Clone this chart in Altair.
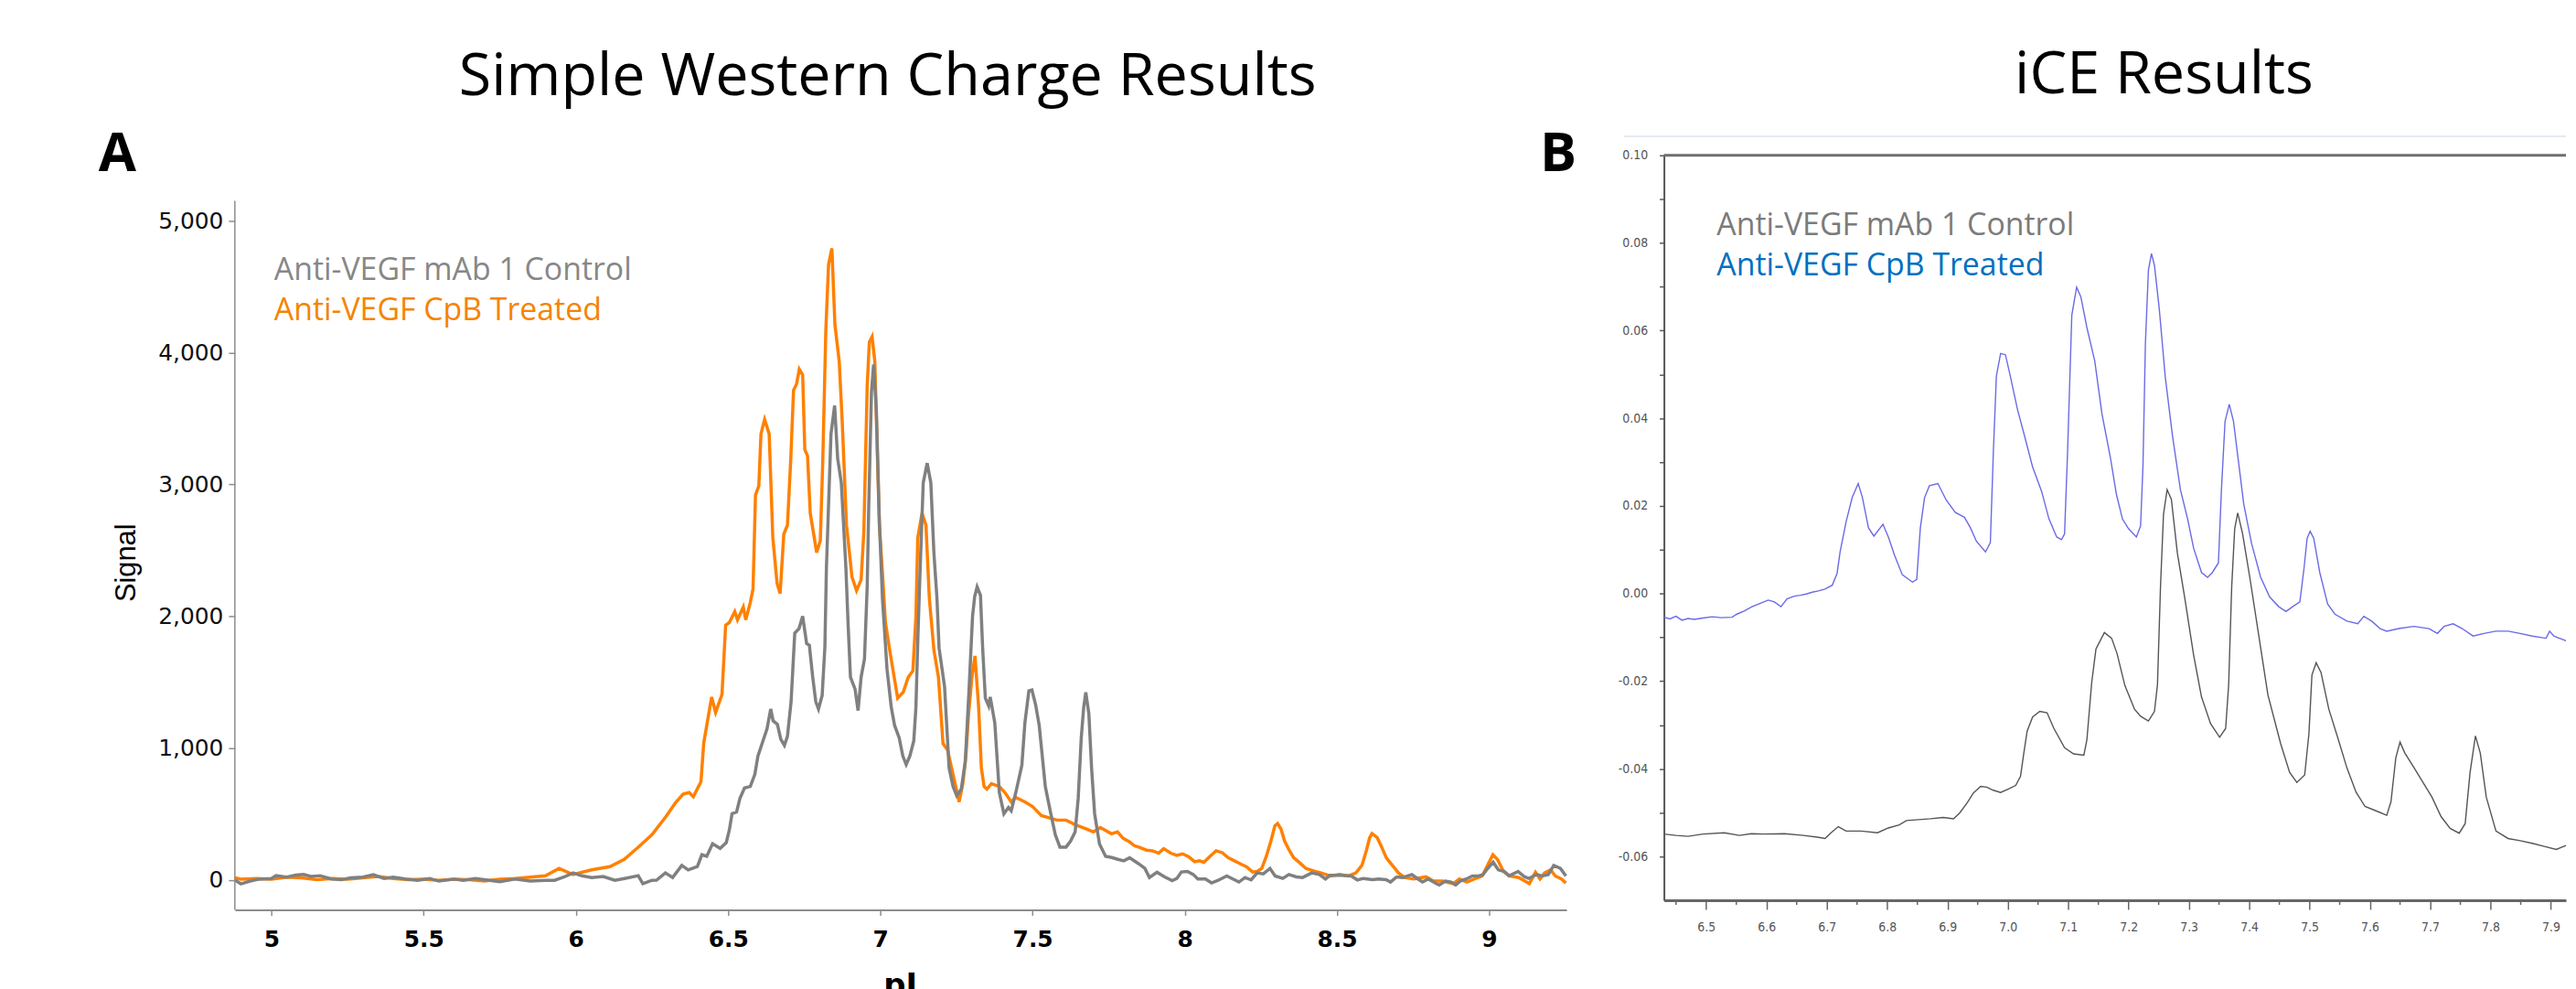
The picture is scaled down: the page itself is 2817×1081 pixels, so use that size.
import altair as alt
import pandas as pd

# ---------------- Panel A: Simple Western charge (pI, Signal) ----------------
sw_control = [
    (4.88, -3), (4.90, -31), (4.93, -10), (4.96, 5), (5.00, 10), (5.015, 31), (5.05, 20), (5.08, 35),
    (5.106, 40), (5.13, 25), (5.16, 30), (5.197, 6), (5.23, 0), (5.26, 15), (5.30, 20), (5.335, 38),
    (5.37, 10), (5.40, 20), (5.44, 6), (5.48, -5), (5.52, 10), (5.55, -10), (5.60, 5), (5.63, -5),
    (5.67, 10), (5.717, -4), (5.75, -15), (5.80, 5), (5.85, -10), (5.90, -5), (5.93, -4), (5.96, 20),
    (5.991, 52), (6.02, 30), (6.052, 17), (6.09, 25), (6.128, -4), (6.16, 10), (6.205, 31), (6.22, -30),
    (6.25, -4), (6.265, -3), (6.294, 52), (6.318, 17), (6.348, 109), (6.369, 75), (6.399, 100),
    (6.414, 190), (6.43, 178), (6.449, 273), (6.474, 238), (6.494, 282), (6.504, 376), (6.513, 501),
    (6.528, 515), (6.539, 618), (6.554, 697), (6.573, 708), (6.588, 800), (6.598, 939), (6.613, 1042),
    (6.628, 1146), (6.640, 1296), (6.648, 1206), (6.662, 1180), (6.673, 1068), (6.685, 1019),
    (6.695, 1088), (6.707, 1353), (6.719, 1872), (6.733, 1906), (6.745, 2000), (6.758, 1793),
    (6.767, 1780), (6.778, 1538), (6.788, 1353), (6.797, 1296), (6.809, 1399), (6.818, 1768),
    (6.823, 2367), (6.838, 3383), (6.850, 3599), (6.860, 3196), (6.872, 3012), (6.887, 2367),
    (6.894, 1952), (6.902, 1538), (6.917, 1448), (6.927, 1284), (6.937, 1538), (6.948, 1676),
    (6.957, 2229), (6.962, 2830), (6.971, 3703), (6.978, 3910), (6.987, 3565), (6.997, 2713),
    (7.007, 2139), (7.022, 1600), (7.036, 1309), (7.047, 1171), (7.062, 1077), (7.074, 939),
    (7.085, 874), (7.097, 939), (7.110, 1054), (7.117, 1309), (7.124, 1883), (7.130, 2300),
    (7.141, 3012), (7.154, 3162), (7.166, 3012), (7.176, 2484), (7.186, 2139), (7.193, 1760),
    (7.211, 1468), (7.226, 847), (7.239, 708), (7.251, 639), (7.266, 688), (7.279, 895), (7.291, 1422),
    (7.303, 2000), (7.310, 2150), (7.318, 2224), (7.329, 2160), (7.336, 1768), (7.345, 1379),
    (7.356, 1319), (7.361, 1388), (7.376, 1192), (7.391, 662), (7.406, 501), (7.421, 549), (7.430, 524),
    (7.445, 662), (7.465, 869), (7.475, 1192), (7.488, 1434), (7.498, 1441), (7.510, 1330),
    (7.522, 1171), (7.532, 939), (7.542, 708), (7.560, 501), (7.575, 341), (7.590, 248), (7.610, 248),
    (7.625, 294), (7.640, 363), (7.650, 616), (7.660, 1077), (7.668, 1307), (7.675, 1422),
    (7.685, 1261), (7.694, 847), (7.704, 501), (7.720, 271), (7.740, 178), (7.760, 169), (7.780, 155),
    (7.800, 144), (7.819, 167), (7.849, 121), (7.869, 86), (7.884, 17), (7.909, 57), (7.934, 22),
    (7.959, -6), (7.974, 10), (7.989, 59), (8.009, 63), (8.028, 40), (8.043, 6), (8.068, 6),
    (8.088, -24), (8.108, -6), (8.138, 29), (8.158, 6), (8.178, -17), (8.198, 17), (8.218, -1),
    (8.238, 52), (8.258, 45), (8.280, 86), (8.297, 29), (8.322, 10), (8.342, 40), (8.367, 22),
    (8.387, 17), (8.417, 52), (8.442, 40), (8.462, 6), (8.477, 33), (8.517, 33), (8.547, 29),
    (8.567, -1), (8.587, 10), (8.617, 1), (8.636, 6), (8.661, 1), (8.676, -17), (8.696, 22),
    (8.716, 17), (8.746, 40), (8.766, 6), (8.781, -17), (8.800, 6), (8.826, -29), (8.836, -40),
    (8.856, -10), (8.875, -17), (8.890, -40), (8.905, -10), (8.925, 6), (8.945, 29), (8.965, 29),
    (8.980, 40), (8.995, 86), (9.013, 133), (9.030, 75), (9.050, 63), (9.065, 29), (9.095, 63),
    (9.115, 24), (9.130, 10), (9.155, 40), (9.174, 29), (9.194, 40), (9.212, 109), (9.234, 86),
    (9.252, 29),
]

sw_cpb = [
    (4.88, 15), (4.90, 5), (4.95, 10), (5.00, 5), (5.05, 20), (5.10, 15), (5.15, 0), (5.20, 10),
    (5.25, 5), (5.30, 15), (5.35, 25), (5.40, 10), (5.45, 0), (5.50, 5), (5.55, -5), (5.60, 5),
    (5.65, 0), (5.70, -10), (5.75, 5), (5.80, 10), (5.85, 20), (5.90, 30), (5.945, 86), (5.99, 40),
    (6.052, 75), (6.112, 100), (6.159, 155), (6.205, 247), (6.25, 342), (6.296, 480), (6.327, 584),
    (6.352, 650), (6.372, 662), (6.386, 630), (6.411, 746), (6.42, 1037), (6.446, 1387), (6.459, 1270),
    (6.48, 1406), (6.492, 1932), (6.504, 1952), (6.522, 2035), (6.531, 1973), (6.55, 2070),
    (6.558, 1973), (6.573, 2104), (6.582, 2208), (6.590, 2920), (6.601, 2989), (6.608, 3383),
    (6.62, 3494), (6.635, 3383), (6.647, 2595), (6.661, 2249), (6.671, 2173), (6.683, 2622),
    (6.695, 2692), (6.706, 3196), (6.715, 3715), (6.725, 3763), (6.734, 3874), (6.745, 3832),
    (6.752, 3265), (6.761, 3217), (6.770, 2781), (6.791, 2484), (6.803, 2574), (6.811, 3175),
    (6.821, 4164), (6.830, 4668), (6.841, 4792), (6.851, 4212), (6.865, 3936), (6.875, 3473),
    (6.889, 2692), (6.907, 2298), (6.922, 2194), (6.937, 2277), (6.946, 2643), (6.957, 3749),
    (6.964, 4081), (6.973, 4122), (6.982, 3936), (6.991, 3175), (6.997, 2692), (7.006, 2367),
    (7.017, 1952), (7.034, 1699), (7.057, 1379), (7.075, 1422), (7.092, 1538), (7.107, 1586),
    (7.117, 2000), (7.123, 2595), (7.137, 2781), (7.150, 2692), (7.161, 2139), (7.176, 1745),
    (7.191, 1538), (7.206, 1033), (7.221, 985), (7.239, 798), (7.259, 591), (7.271, 729),
    (7.281, 936), (7.290, 1261), (7.301, 1538), (7.311, 1699), (7.323, 1310), (7.332, 847),
    (7.341, 708), (7.350, 688), (7.365, 729), (7.391, 708), (7.41, 660), (7.43, 591), (7.445, 625),
    (7.475, 591), (7.50, 556), (7.529, 487), (7.58, 453), (7.61, 453), (7.64, 418), (7.679, 384),
    (7.70, 363), (7.723, 397), (7.759, 349), (7.779, 363), (7.798, 314), (7.819, 287), (7.834, 259),
    (7.849, 248), (7.874, 225), (7.894, 220), (7.914, 202), (7.931, 236), (7.954, 202), (7.974, 185),
    (7.993, 197), (8.013, 174), (8.033, 137), (8.048, 144), (8.063, 133), (8.083, 178), (8.103, 220),
    (8.123, 206), (8.143, 167), (8.163, 144), (8.183, 121), (8.203, 98), (8.223, 59), (8.238, 63),
    (8.253, 86), (8.268, 178), (8.283, 294), (8.296, 409), (8.305, 427), (8.316, 386), (8.328, 294),
    (8.343, 225), (8.358, 167), (8.378, 128), (8.398, 86), (8.423, 68), (8.448, 52), (8.478, 29),
    (8.508, 40), (8.538, 29), (8.562, 52), (8.582, 109), (8.597, 225), (8.607, 317), (8.615, 351),
    (8.632, 321), (8.647, 248), (8.662, 167), (8.682, 109), (8.702, 52), (8.722, 17), (8.752, 6),
    (8.792, 22), (8.817, -10), (8.847, -10), (8.882, -29), (8.902, 6), (8.927, -17), (8.952, 6),
    (8.977, 29), (8.992, 98), (9.012, 190), (9.027, 155), (9.047, 63), (9.067, 29), (9.097, 17),
    (9.117, -10), (9.132, -29), (9.152, 57), (9.167, 6), (9.182, 52), (9.202, 75), (9.217, 29),
    (9.237, 6), (9.252, -24),
]

sw_x_ticks = [5, 5.5, 6, 6.5, 7, 7.5, 8, 8.5, 9]
sw_y_ticks = [0, 1000, 2000, 3000, 4000, 5000]

# ---------------- Panel B: iCE electropherogram (pI, absorbance) ----------------
ice_cpb = [
    (6.430, -0.0054), (6.440, -0.0058), (6.450, -0.0052), (6.460, -0.0061), (6.470, -0.0057),
    (6.480, -0.0059), (6.495, -0.0056), (6.510, -0.0053), (6.525, -0.0055), (6.543, -0.0054),
    (6.551, -0.0047), (6.563, -0.0040), (6.576, -0.0030), (6.590, -0.0022), (6.603, -0.0015),
    (6.613, -0.0019), (6.624, -0.0030), (6.634, -0.0012), (6.646, -0.0006), (6.656, -0.0004),
    (6.666, -0.0001), (6.676, 0.0003), (6.686, 0.0006), (6.697, 0.0010), (6.709, 0.0019),
    (6.717, 0.0046), (6.722, 0.0095), (6.732, 0.0164), (6.742, 0.0219), (6.752, 0.0251),
    (6.759, 0.0219), (6.769, 0.0150), (6.778, 0.0131), (6.793, 0.0158), (6.802, 0.0129),
    (6.812, 0.0088), (6.825, 0.0043), (6.832, 0.0036), (6.842, 0.0026), (6.849, 0.0032),
    (6.855, 0.0150), (6.862, 0.0219), (6.870, 0.0246), (6.884, 0.0251), (6.898, 0.0213),
    (6.913, 0.0185), (6.928, 0.0174), (6.938, 0.0150), (6.948, 0.0119), (6.963, 0.0095),
    (6.971, 0.0116), (6.976, 0.0323), (6.981, 0.0496), (6.988, 0.0548), (6.996, 0.0545),
    (7.003, 0.0503), (7.016, 0.0420), (7.028, 0.0358), (7.041, 0.0289), (7.056, 0.0233),
    (7.068, 0.0171), (7.081, 0.0129), (7.089, 0.0123), (7.094, 0.0136), (7.099, 0.0323),
    (7.106, 0.0635), (7.114, 0.0699), (7.121, 0.0677), (7.131, 0.0607), (7.144, 0.0531),
    (7.156, 0.0410), (7.170, 0.0310), (7.180, 0.0226), (7.190, 0.0170), (7.200, 0.0148),
    (7.213, 0.0129), (7.220, 0.0154), (7.224, 0.0293), (7.228, 0.0571), (7.233, 0.0738),
    (7.238, 0.0776), (7.243, 0.0749), (7.251, 0.0649), (7.261, 0.0493), (7.273, 0.0359),
    (7.286, 0.0237), (7.298, 0.0170), (7.308, 0.0103), (7.321, 0.0048), (7.331, 0.0037),
    (7.339, 0.0048), (7.349, 0.0070), (7.354, 0.0237), (7.360, 0.0393), (7.367, 0.0432),
    (7.374, 0.0393), (7.381, 0.0315), (7.391, 0.0204), (7.404, 0.0114), (7.419, 0.0037),
    (7.434, -0.0008), (7.449, -0.0030), (7.461, -0.0041), (7.472, -0.0030), (7.484, -0.0019),
    (7.491, 0.0059), (7.496, 0.0126), (7.501, 0.0142), (7.507, 0.0126), (7.517, 0.0048),
    (7.530, -0.0024), (7.542, -0.0047), (7.562, -0.0063), (7.580, -0.0069), (7.590, -0.0052),
    (7.603, -0.0063), (7.617, -0.0080), (7.628, -0.0086), (7.648, -0.0080), (7.673, -0.0075),
    (7.698, -0.0080), (7.712, -0.0091), (7.723, -0.0075), (7.738, -0.0069), (7.753, -0.0080),
    (7.771, -0.0097), (7.789, -0.0091), (7.809, -0.0086), (7.829, -0.0086), (7.849, -0.0091),
    (7.869, -0.0097), (7.892, -0.0102), (7.898, -0.0086), (7.905, -0.0097), (7.925, -0.0108),
]

ice_control = [
    (6.430, -0.0549), (6.450, -0.0552), (6.470, -0.0554), (6.495, -0.0549), (6.530, -0.0546),
    (6.555, -0.0552), (6.575, -0.0548), (6.596, -0.0549), (6.630, -0.0548), (6.661, -0.0552),
    (6.684, -0.0556), (6.697, -0.0559), (6.707, -0.0546), (6.719, -0.0532), (6.732, -0.0542),
    (6.757, -0.0542), (6.784, -0.0546), (6.802, -0.0535), (6.820, -0.0528), (6.832, -0.0518),
    (6.852, -0.0516), (6.872, -0.0514), (6.893, -0.0511), (6.910, -0.0514), (6.920, -0.0501),
    (6.933, -0.0477), (6.943, -0.0455), (6.955, -0.0440), (6.965, -0.0442), (6.976, -0.0449),
    (6.988, -0.0454), (7.001, -0.0446), (7.013, -0.0438), (7.021, -0.0417), (7.026, -0.0369),
    (7.032, -0.0314), (7.041, -0.0282), (7.053, -0.0269), (7.065, -0.0272), (7.076, -0.0307),
    (7.094, -0.0352), (7.109, -0.0366), (7.126, -0.0369), (7.131, -0.0334), (7.139, -0.0203),
    (7.146, -0.0127), (7.160, -0.0089), (7.172, -0.0102), (7.181, -0.0137), (7.194, -0.0210),
    (7.210, -0.0264), (7.220, -0.0280), (7.233, -0.0291), (7.243, -0.0269), (7.248, -0.0208),
    (7.253, 0.0015), (7.258, 0.0181), (7.264, 0.0237), (7.271, 0.0215), (7.281, 0.0092),
    (7.293, -0.0008), (7.308, -0.0141), (7.321, -0.0236), (7.336, -0.0297), (7.351, -0.0328),
    (7.361, -0.0308), (7.366, -0.0208), (7.371, 0.0015), (7.376, 0.0148), (7.381, 0.0184),
    (7.389, 0.0137), (7.401, 0.0037), (7.416, -0.0097), (7.431, -0.0231), (7.452, -0.0342),
    (7.467, -0.0408), (7.479, -0.0431), (7.492, -0.0414), (7.499, -0.0320), (7.504, -0.0186),
    (7.511, -0.0158), (7.519, -0.0180), (7.532, -0.0264), (7.547, -0.0330), (7.562, -0.0398),
    (7.577, -0.0453), (7.592, -0.0486), (7.612, -0.0497), (7.628, -0.0506), (7.635, -0.0475),
    (7.643, -0.0375), (7.650, -0.0339), (7.658, -0.0364), (7.673, -0.0397), (7.688, -0.0431),
    (7.703, -0.0465), (7.718, -0.0509), (7.733, -0.0536), (7.748, -0.0547), (7.758, -0.0525),
    (7.766, -0.0409), (7.775, -0.0325), (7.783, -0.0364), (7.793, -0.0465), (7.809, -0.0542),
    (7.829, -0.0559), (7.849, -0.0564), (7.869, -0.0570), (7.889, -0.0577), (7.909, -0.0584),
    (7.925, -0.0575),
]

ice_x_major = [6.5, 6.6, 6.7, 6.8, 6.9, 7.0, 7.1, 7.2, 7.3, 7.4, 7.5, 7.6, 7.7, 7.8, 7.9]
ice_x_minor = [6.45, 6.55, 6.65, 6.75, 6.85, 6.95, 7.05, 7.15, 7.25, 7.35, 7.45, 7.55, 7.65, 7.75, 7.85]
ice_y_ticks = [-0.06, -0.05, -0.04, -0.03, -0.02, -0.01, 0.0, 0.01, 0.02, 0.03, 0.04, 0.05, 0.06,
               0.07, 0.08, 0.09, 0.10]

titles = ["Simple Western Charge Results", "iCE Results"]
letters = ["A", "B"]
legend_labels = ["Anti-VEGF mAb 1 Control", "Anti-VEGF CpB Treated"]

# ---------------- styling ----------------
ORANGE = "#ff8000"
GRAY_A = "#808080"
BLUE_LINE = "#6a6ae6"
GRAY_B = "#555555"
TITLE_FONT = "Open Sans"
NARROW = "Liberation Sans Narrow, Arial Narrow, DejaVu Sans Condensed, sans-serif"

SW_X = alt.Scale(domain=[4.88, 9.254], nice=False, zero=False)
SW_Y = alt.Scale(domain=[-228, 5498], nice=False, zero=False)
ICE_X = alt.Scale(domain=[6.43, 7.925], nice=False, zero=False)
ICE_Y = alt.Scale(domain=[-0.07, 0.10], nice=False, zero=False)

SW_XAXIS = alt.Axis(values=sw_x_ticks, labelExpr="toString(datum.value)", title=None, grid=False,
                    domainColor="#8c8c8c", domainWidth=2, tickColor="#8c8c8c", tickWidth=1.5,
                    tickSize=6, labelFont="DejaVu Sans", labelFontWeight="bold", labelFontSize=25,
                    labelColor="#000000", labelPadding=14, labelFlush=False)
SW_YAXIS = alt.Axis(values=sw_y_ticks, format=",d", title=None, grid=False, domain=False,
                    tickColor="#8c8c8c", tickWidth=1.5, tickSize=7, labelFont="DejaVu Sans",
                    labelFontSize=25, labelColor="#111111", labelPadding=6, labelFlush=False)
ICE_XAXIS = alt.Axis(values=ice_x_major, labelExpr="format(datum.value, '.1f')", title=None,
                     grid=False, domainColor="#666666", domainWidth=3, tickColor="#666666",
                     tickWidth=1.5, tickSize=10, labelFont=NARROW, labelFontSize=14,
                     labelColor="#555555", labelPadding=13, labelFlush=False)
ICE_YAXIS = alt.Axis(values=ice_y_ticks,
                     labelExpr="abs(round(datum.value*100)) % 2 == 0 ? "
                               "replace(format(datum.value, '.2f'), '\u2212', '-') : ''",
                     title=None, grid=False, domainColor="#555555", domainWidth=2,
                     tickColor="#555555", tickWidth=1.5, tickSize=5, labelFont=NARROW,
                     labelFontSize=14, labelColor="#555555", labelPadding=13, labelFlush=False)


class Panel:
    """Encodings for one panel: every layer shares the same scales and axes."""

    def __init__(self, sx, sy, ax, ay):
        self.sx, self.sy, self.ax, self.ay = sx, sy, ax, ay

    def X(self):
        return alt.X("x:Q", scale=self.sx, axis=self.ax)

    def Y(self):
        return alt.Y("y:Q", scale=self.sy, axis=self.ay)

    def line(self, pairs, **mk):
        df = pd.DataFrame(pairs, columns=["x", "y"])
        return alt.Chart(df).mark_line(**mk).encode(x=self.X(), y=self.Y())

    def text(self, x, y, txt, **mk):
        df = pd.DataFrame({"x": [x], "y": [y], "t": [txt]})
        return alt.Chart(df).mark_text(**mk).encode(x=self.X(), y=self.Y(), text="t:N")

    def hrule(self, x, x2, y, **mk):
        df = pd.DataFrame({"x": [x], "x2": [x2], "y": [y]})
        return alt.Chart(df).mark_rule(**mk).encode(x=self.X(), x2="x2:Q", y=self.Y())

    def vrule(self, xs, y, y2, **mk):
        df = pd.DataFrame({"x": xs, "y": [y] * len(xs), "y2": [y2] * len(xs)})
        return alt.Chart(df).mark_rule(**mk).encode(x=self.X(), y=self.Y(), y2="y2:Q")


# ---------------- panel A ----------------
A = Panel(SW_X, SW_Y, SW_XAXIS, SW_YAXIS)
panel_a = alt.layer(
    A.line(sw_cpb, color=ORANGE, strokeWidth=3.5),
    A.line(sw_control, color=GRAY_A, strokeWidth=3.5),
    A.vrule([4.88], -228, 5152, color="#8c8c8c", strokeWidth=1.5),
    A.hrule(4.136, 9.3737, 6596, color="white", strokeWidth=1),
    A.text(7.024, 5955, titles[0], font=TITLE_FONT, fontSize=65, align="center",
           baseline="alphabetic", color="#000000"),
    A.text(4.432, 5380, letters[0], font=TITLE_FONT, fontSize=60, fontWeight="bold",
           align="left", baseline="alphabetic", color="#000000"),
    A.text(9.167, 5380, letters[1], font=TITLE_FONT, fontSize=60, fontWeight="bold",
           align="left", baseline="alphabetic", color="#000000"),
    A.text(5.009, 4551, legend_labels[0], font=TITLE_FONT, fontSize=34, align="left",
           baseline="alphabetic", color="#878787"),
    A.text(5.009, 4247, legend_labels[1], font=TITLE_FONT, fontSize=34, align="left",
           baseline="alphabetic", color="#f58400"),
    A.text(4.553, 2405, "Signal", font="Liberation Sans", fontSize=31, angle=270,
           align="center", baseline="alphabetic", color="#000000"),
    A.text(7.066, -881, "pI", font="DejaVu Sans", fontSize=34, fontWeight="bold",
           align="center", baseline="alphabetic", color="#000000"),
).properties(width=1463, height=828.5)

# ---------------- panel B ----------------
B = Panel(ICE_X, ICE_Y, ICE_XAXIS, ICE_YAXIS)
panel_b = alt.layer(
    B.line(ice_cpb, color=BLUE_LINE, strokeWidth=1.4),
    B.line(ice_control, color=GRAY_B, strokeWidth=1.4),
    B.vrule(ice_x_minor, -0.07, -0.07104, color="#666666", strokeWidth=1.5),
    B.hrule(6.43, 7.925, 0.10, color="#6e6e6e", strokeWidth=3),
    B.hrule(6.3636, 7.925, 0.10436, color="#dde5ee", strokeWidth=1.5),
    B.vrule([6.3455], 0.1300, 0.13313, color="white", strokeWidth=1),
    B.text(7.2588, 0.11423, titles[1], font=TITLE_FONT, fontSize=65, align="center",
           baseline="alphabetic", color="#000000"),
    B.text(6.5175, 0.0818, legend_labels[0], font=TITLE_FONT, fontSize=34,
           align="left", baseline="alphabetic", color="#7b7b7b"),
    B.text(6.5175, 0.0726, legend_labels[1], font=TITLE_FONT, fontSize=34,
           align="left", baseline="alphabetic", color="#0070c0"),
).properties(width=991, height=818)

chart = alt.hconcat(panel_a, panel_b, spacing=9).properties(
    padding={"left": 0, "top": 0, "right": 0, "bottom": 0},
    background="white",
).configure_view(strokeWidth=0)

chart.save("out.html", embed_options={"renderer": "svg", "actions": False})
